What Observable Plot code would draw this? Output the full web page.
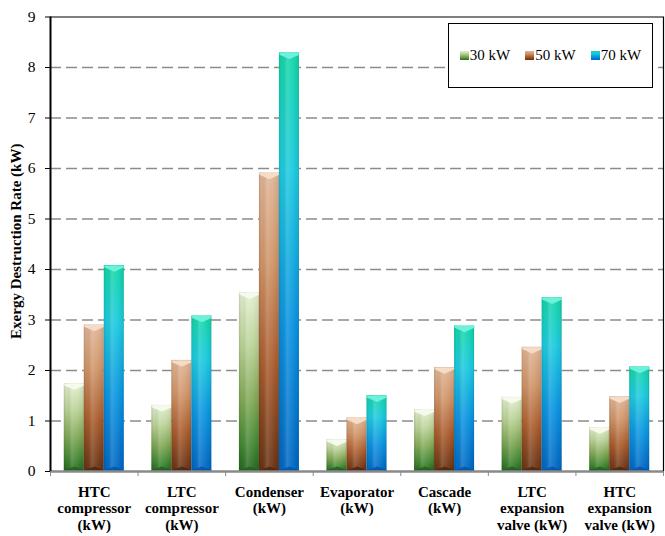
<!DOCTYPE html>
<html>
<head>
<meta charset="utf-8">
<script src="https://cdn.jsdelivr.net/npm/d3@7"></script>
<script src="https://cdn.jsdelivr.net/npm/@observablehq/plot@0.6"></script>
<style>
  body { margin: 0; background: #fff; }
  #chart { position: relative; width: 665px; height: 536px; font-family: "Liberation Serif", "Times New Roman", serif; color: #000; }
  .legend { position: absolute; left: 448px; top: 23px; width: 205px; height: 65px; box-sizing: border-box;
            border: 1.5px solid #000; background: #fff; display: flex; align-items: center; justify-content: center;
            gap: 15px; font-size: 15px; }
  .legend .item { display: flex; align-items: center; gap: 1px; }
  .legend .sw { width: 9px; height: 9px; display: inline-block; }
</style>
</head>
<body>
<div id="chart"></div>
<script>
// Exergy destruction rate per component, for three cooling capacities
const categories = [
  "HTC\ncompressor\n(kW)",
  "LTC\ncompressor\n(kW)",
  "Condenser\n(kW)",
  "Evaporator\n(kW)",
  "Cascade\n(kW)",
  "LTC\nexpansion\nvalve (kW)",
  "HTC\nexpansion\nvalve (kW)"
];
const seriesNames = ["30 kW", "50 kW", "70 kW"];
const rate30 = [1.74, 1.31, 3.54, 0.63, 1.22, 1.47, 0.87];
const rate50 = [2.90, 2.20, 5.91, 1.06, 2.06, 2.46, 1.48];
const rate70 = [4.08, 3.08, 8.29, 1.50, 2.88, 3.44, 2.07];
const yTicks = [0, 1, 2, 3, 4, 5, 6, 7, 8, 9];
const yLabel = "Exergy Destruction Rate (kW)";

// Vertical gradient stops (top -> bottom) for each series
const gradientStops = [
  [[0, "#e4efd0"], [0.3, "#bad296"], [0.6, "#82a956"], [0.85, "#448834"], [1, "#26681e"]],
  [[0, "#dfb596"], [0.3, "#d09468"], [0.65, "#a95b2c"], [1, "#663214"]],
  [[0, "#12d6a6"], [0.28, "#1ccade"], [0.65, "#0a92e0"], [1, "#0066c2"]]
];
const bevelTop = ["#f6faec", "#f6dcc6", "#6cf2da"];
const bevelBottom = ["#1f5e1c", "#4e220a", "#0052a8"];

const allRates = [rate30, rate50, rate70];
const rows = categories.flatMap((c, i) =>
  seriesNames.map((s, k) => ({i, k, series: s, value: allRates[k][i]}))
);

// Bar geometry in category units (one category = one unit on x)
const barWidth = 0.2284;
const groupStart = -1.5 * barWidth;
const left = d => d.i + groupStart + d.k * barWidth;
const center = d => left(d) + barWidth / 2;

// Bevel shapes drawn at the top and bottom of each bar
const chevronTop = {
  draw(ctx, size) {
    const r = Math.sqrt(size / Math.PI);
    ctx.moveTo(-r, 0); ctx.lineTo(r, 0); ctx.lineTo(r, 0.18 * r);
    ctx.lineTo(0, 0.62 * r); ctx.lineTo(-r, 0.18 * r); ctx.closePath();
  }
};
const chevronBottom = {
  draw(ctx, size) {
    const r = Math.sqrt(size / Math.PI);
    ctx.moveTo(-r, 0); ctx.lineTo(r, 0); ctx.lineTo(r, -0.12 * r);
    ctx.lineTo(0, -0.5 * r); ctx.lineTo(-r, -0.12 * r); ctx.closePath();
  }
};

function gradientDefs() {
  const defs = d3.create("svg:defs");
  gradientStops.forEach((stops, k) => {
    const g = defs.append("linearGradient").attr("id", `bar${k}`)
      .attr("x1", 0).attr("y1", 0).attr("x2", 0).attr("y2", 1);
    stops.forEach(([o, c]) => g.append("stop").attr("offset", o).attr("stop-color", c));
  });
  const sheen = defs.append("linearGradient").attr("id", "sheen")
    .attr("x1", 0).attr("y1", 0).attr("x2", 1).attr("y2", 0);
  [[0, "#000", 0.14], [0.12, "#000", 0.02], [0.4, "#fff", 0.16], [0.7, "#fff", 0.05], [0.92, "#000", 0.04], [1, "#000", 0.16]]
    .forEach(([o, c, a]) => sheen.append("stop").attr("offset", o).attr("stop-color", c).attr("stop-opacity", a));
  return defs.node();
}

const marks = [
  gradientDefs,
  // dashed horizontal gridlines
  Plot.ruleY(yTicks.filter(t => t > 0 && t < 9), {stroke: "#8c8c8c", strokeWidth: 1.5, strokeDasharray: "11,5"})
];

seriesNames.forEach((s, k) => {
  const data = rows.filter(d => d.k === k);
  marks.push(
    Plot.rectY(data, {x1: left, x2: d => left(d) + barWidth, y1: 0, y2: "value", fill: `url(#bar${k})`}),
    Plot.rectY(data, {x1: left, x2: d => left(d) + barWidth, y1: 0, y2: "value", fill: "url(#sheen)"}),
    Plot.dot(data, {x: center, y: "value", r: 10, symbol: chevronTop, fill: bevelTop[k], stroke: "none"}),
    Plot.dot(data, {x: center, y: 0, r: 10, symbol: chevronBottom, fill: bevelBottom[k], stroke: "none", fillOpacity: 0.8})
  );
});

marks.push(
  // frame
  Plot.ruleY([9], {stroke: "#000", strokeWidth: 1.2}),
  Plot.ruleX([6.5], {stroke: "#000", strokeWidth: 1.2}),
  Plot.ruleY([0], {stroke: "#8a8a8a", strokeWidth: 2.5}),
  Plot.ruleX([-0.5], {stroke: "#000", strokeWidth: 2}),
  // axes
  Plot.axisY(yTicks, {tickSize: 5, tickPadding: 10, fontSize: 15.5, stroke: "#000", tickFormat: d => String(d), label: null}),
  Plot.axisX(d3.range(categories.length + 1).map(i => i - 0.5), {tickFormat: () => "", tickSize: 5, stroke: "#8a8a8a", label: null}),
  Plot.axisX(d3.range(categories.length), {tickFormat: i => categories[i], tickSize: 0, tickPadding: 13,
    fontWeight: "bold", fontSize: 15, lineHeight: 1.13, label: null}),
  Plot.text([yLabel], {text: d => d, frameAnchor: "left", textAnchor: "middle", dx: -34, dy: -3, rotate: -90,
    fontWeight: "bold", fontSize: 15})
);

const chart = Plot.plot({
  width: 665,
  height: 536,
  marginLeft: 50,
  marginRight: 2,
  marginTop: 16.5,
  marginBottom: 65,
  style: {fontFamily: "Liberation Serif, Times New Roman, serif", fontSize: "15px", color: "#000", background: "#fff"},
  x: {type: "linear", domain: [-0.5, 6.5], label: null},
  y: {domain: [0, 9], label: null},
  marks
});

const root = document.getElementById("chart");
root.appendChild(chart);

// Legend box inside the plot area
const legend = document.createElement("div");
legend.className = "legend";
const swatchCss = k => `linear-gradient(to bottom, ${gradientStops[k].map(([o, c]) => `${c} ${o * 100}%`).join(", ")})`;
seriesNames.forEach((s, k) => {
  const item = document.createElement("span");
  item.className = "item";
  const sw = document.createElement("span");
  sw.className = "sw";
  sw.style.background = swatchCss(k);
  const label = document.createElement("span");
  label.textContent = s;
  item.append(sw, label);
  legend.appendChild(item);
});
root.appendChild(legend);
</script>
</body>
</html>
